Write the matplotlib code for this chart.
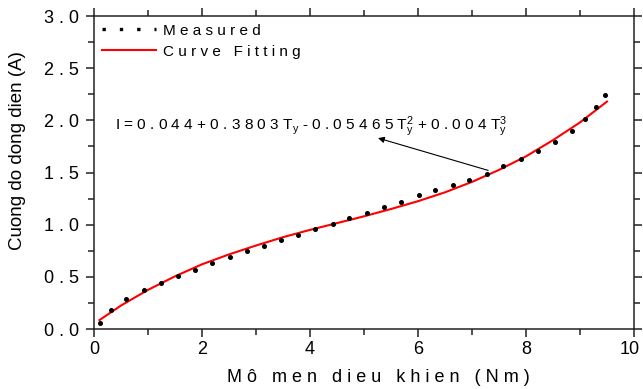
import matplotlib
matplotlib.use("Agg")
import matplotlib.pyplot as plt
from matplotlib.lines import Line2D
from matplotlib.ticker import MultipleLocator, FixedLocator
from matplotlib.transforms import ScaledTranslation

x_meas = [0.11, 0.31, 0.60, 0.93, 1.24, 1.56, 1.87, 2.19, 2.52, 2.83,
          3.15, 3.46, 3.78, 4.10, 4.42, 4.73, 5.05, 5.37, 5.69, 6.01,
          6.32, 6.64, 6.95, 7.27, 7.58, 7.90, 8.22, 8.54, 8.86, 9.09,
          9.30, 9.46]
y_meas = [0.06, 0.18, 0.29, 0.37, 0.44, 0.51, 0.57, 0.63, 0.69, 0.75,
          0.80, 0.85, 0.90, 0.96, 1.01, 1.06, 1.11, 1.17, 1.22, 1.28,
          1.33, 1.38, 1.43, 1.49, 1.56, 1.63, 1.71, 1.79, 1.90, 2.01,
          2.13, 2.24]

# fitted curve
x_fit = [0.1, 0.5, 1.0, 1.5, 2.0, 2.5, 3.0, 3.5, 4.0, 4.5,
         5.0, 5.5, 6.0, 6.5, 7.0, 7.5, 8.0, 8.5, 9.0, 9.5]
y_fit = [0.085, 0.225, 0.375, 0.505, 0.62, 0.715, 0.80, 0.88, 0.95, 1.015,
         1.08, 1.15, 1.225, 1.31, 1.41, 1.525, 1.655, 1.81, 1.98, 2.18]

x_ticks = [0, 2, 4, 6, 8, 10]
x_ticklabels = ["0", "2", "4", "6", "8", "10"]
y_ticks = [0.0, 0.5, 1.0, 1.5, 2.0, 2.5, 3.0]
y_ticklabels = ["0 . 0", "0 . 5", "1 . 0", "1 . 5", "2 . 0", "2 . 5", "3 . 0"]

plt.rcParams['font.family'] = ['Liberation Sans', 'DejaVu Sans']
plt.rcParams['mathtext.fontset'] = 'custom'
plt.rcParams['mathtext.rm'] = 'Liberation Sans'
plt.rcParams['mathtext.it'] = 'Liberation Sans'

fig = plt.figure(figsize=(6.43, 3.89), dpi=100)
ax = fig.add_axes([94 / 643, 1 - 329 / 389, 540 / 643, 313 / 389])

ax.plot(x_fit, y_fit, color='red', lw=1.5, zorder=2)
ax.plot(x_meas, y_meas, ls='none', marker='o', ms=2.6, color='black', zorder=3)

ax.set_xlim(0, 10)
ax.set_ylim(0, 3.0)
ax.xaxis.set_major_locator(FixedLocator(x_ticks))
ax.set_xticklabels(x_ticklabels)
ax.yaxis.set_major_locator(FixedLocator(y_ticks))
ax.set_yticklabels(y_ticklabels)
ax.xaxis.set_minor_locator(MultipleLocator(1))
ax.yaxis.set_minor_locator(MultipleLocator(0.25))
ax.tick_params(which='both', direction='out', top=True, right=True,
               labelsize=13, width=1.1, color='#222222')
ax.tick_params(which='major', length=6)
ax.tick_params(axis='x', which='major', pad=3)
ax.tick_params(axis='y', which='major', pad=5)
ax.tick_params(which='minor', length=4)
for s in ax.spines.values():
    s.set_linewidth(1.1)
    s.set_color('#222222')

# keep the last x label inside the figure
last = ax.get_xticklabels()[-1]
last.set_transform(last.get_transform() + ScaledTranslation(-4 / 100, 0, fig.dpi_scale_trans))

ax.set_xlabel("M ô   m e n   d i e u   k h i e n   ( N m )", fontsize=13)
ax.xaxis.set_label_coords(0.526, -0.128)
ax.set_ylabel("Cuong do dong dien (A)", fontsize=13.5)
ax.yaxis.set_label_coords(-0.126, 0.569)

handles = [Line2D([], [], color='black', lw=2.4, ls=(0, (1, 4.2))),
           Line2D([], [], color='red', lw=1.5)]
ax.legend(handles, ["M e a s u r e d", "C u r v e   F i t t i n g"],
          loc='upper left', bbox_to_anchor=(0.015, 0.975), frameon=False,
          fontsize=11, handlelength=3.5, handletextpad=0.5,
          labelspacing=0.45, borderpad=0, borderaxespad=0)

eq = (r"I = 0 . 0 4 4 + 0 . 3 8 0 3 T$_\mathregular{y}$ - 0 . 0 5 4 6 5 "
      r"T$_\mathregular{y}^\mathregular{2}$ + 0 . 0 0 4 T$_\mathregular{y}^\mathregular{3}$")
ax.annotate("", xy=(5.26, 1.83), xytext=(7.30, 1.52),
            arrowprops=dict(arrowstyle='-|>', color='black', lw=0.8,
                            mutation_scale=9, shrinkA=0, shrinkB=0))
ax.text(0.39, 1.94, eq, fontsize=11.1, ha='left', va='center')

fig.savefig("out.png", dpi=100)
